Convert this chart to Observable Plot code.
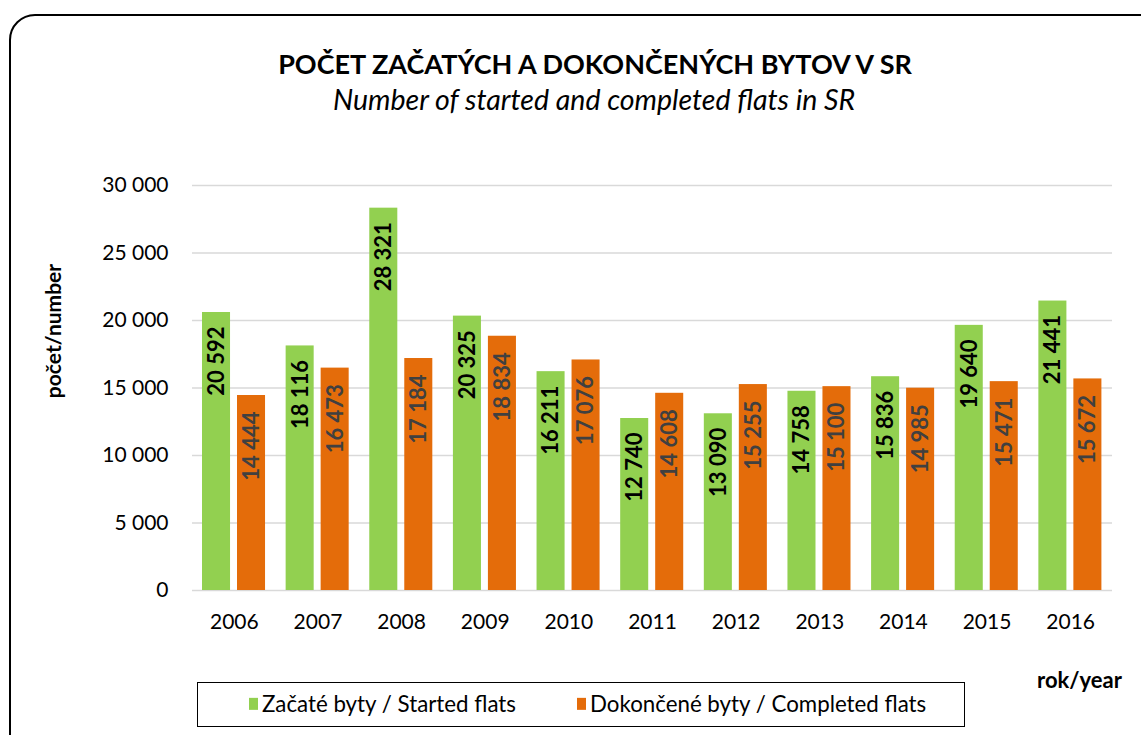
<!DOCTYPE html>
<html>
<head>
<meta charset="utf-8">
<script src="https://cdn.jsdelivr.net/npm/d3@7"></script>
<script src="https://cdn.jsdelivr.net/npm/@observablehq/plot@0.6"></script>
<style>
  html, body { margin: 0; padding: 0; background: #fff; }
  #wrap { position: relative; width: 1141px; height: 735px; overflow: hidden; font-family: Lato, "Open Sans", sans-serif; }
  #frame { position: absolute; left: 9px; top: 14px; width: 1170px; height: 770px; border: 2px solid #000; border-radius: 26px; box-sizing: border-box; }
  #title { position: absolute; left: 0; width: 1190px; top: 63px; transform: translateY(-50%); text-align: center; font-weight: bold; font-size: 27px; line-height: 1; color: #000; }
  #subtitle { position: absolute; left: 0; width: 1188px; top: 99px; transform: translateY(-50%); text-align: center; font-style: italic; font-size: 28.5px; line-height: 1; color: #000; }
  #ytitle { position: absolute; left: 52px; top: 331px; transform: translate(-50%, -50%) rotate(-90deg); font-weight: bold; font-size: 21px; line-height: 1; white-space: nowrap; }
  #xtitle { position: absolute; left: 1037px; top: 680px; transform: translateY(-50%); font-weight: bold; font-size: 22px; line-height: 1; }
  #chart { position: absolute; left: 0; top: 0; }
  #legend { position: absolute; left: 197px; top: 682px; width: 768px; height: 45px; border: 1.5px solid #000; box-sizing: border-box; background: #fff; }
  .li { position: absolute; top: 21px; transform: translateY(-50%); font-size: 22.3px; line-height: 1; display: flex; align-items: center; white-space: nowrap; }
  .sw { display: inline-block; width: 9px; height: 12px; margin-right: 4px; }
</style>
</head>
<body>
<div id="wrap">
  <div id="frame"></div>
  <div id="title">POČET ZAČATÝCH A DOKONČENÝCH BYTOV V SR</div>
  <div id="subtitle">Number of started and completed flats in SR</div>
  <div id="chart"></div>
  <div id="ytitle">počet/number</div>
  <div id="xtitle">rok/year</div>
  <div id="legend"></div>
</div>
<script>
const years = ["2006","2007","2008","2009","2010","2011","2012","2013","2014","2015","2016"];
const started = [20592,18116,28321,20325,16211,12740,13090,14758,15836,19640,21441];
const completed = [14444,16473,17184,18834,17076,14608,15255,15100,14985,15471,15672];
const seriesNames = ["Začaté byty / Started flats", "Dokončené byty / Completed flats"];
const seriesColors = ["#92D050", "#E46C0A"];
const labelColors = ["#000000", "#404040"];
const yTicks = [0,5000,10000,15000,20000,25000,30000];

const startedData = years.map((y, i) => ({year: y, value: started[i]}));
const completedData = years.map((y, i) => ({year: y, value: completed[i]}));
const fmt = v => d3.format(",")(v).replace(/,/g, " ");

const chart = Plot.plot({
  width: 1141,
  height: 735,
  marginTop: 185,
  marginBottom: 145,
  marginLeft: 192,
  marginRight: 29,
  style: {fontFamily: "Lato, 'Open Sans', sans-serif", fontSize: "21px", color: "#000", background: "transparent"},
  x: {domain: years, padding: 0, round: false, label: null, tickSize: 0, tickPadding: 24},
  y: {domain: [0, 30000], ticks: yTicks, tickFormat: fmt, tickSize: 0, tickPadding: 24, label: null},
  marks: [
    Plot.gridY(yTicks, {stroke: "#d9d9d9", strokeOpacity: 1, strokeWidth: 1.5}),
    Plot.barY(startedData, {x: "year", y: "value", fill: seriesColors[0], insetLeft: 10, insetRight: 45.6}),
    Plot.barY(completedData, {x: "year", y: "value", fill: seriesColors[1], insetLeft: 45, insetRight: 10.6}),
    Plot.text(startedData, {
      x: "year", y: "value", text: d => fmt(d.value),
      rotate: -90, textAnchor: "end", dx: -17.5, dy: 14, fill: labelColors[0],
      fontWeight: "bold", fontSize: 22
    }),
    Plot.text(completedData, {
      x: "year", y: "value", text: d => fmt(d.value),
      rotate: -90, textAnchor: "end", dx: 17.5, dy: 16, fill: labelColors[1],
      fontWeight: "bold", fontSize: 22
    })
  ]
});
document.getElementById("chart").appendChild(chart);

const legend = document.getElementById("legend");
const positions = [51, 379];
seriesNames.forEach((n, i) => {
  const item = document.createElement("div");
  item.className = "li";
  item.style.left = positions[i] + "px";
  const sw = document.createElement("span");
  sw.className = "sw";
  sw.style.background = seriesColors[i];
  item.appendChild(sw);
  item.appendChild(document.createTextNode(n));
  legend.appendChild(item);
});
</script>
</body>
</html>
